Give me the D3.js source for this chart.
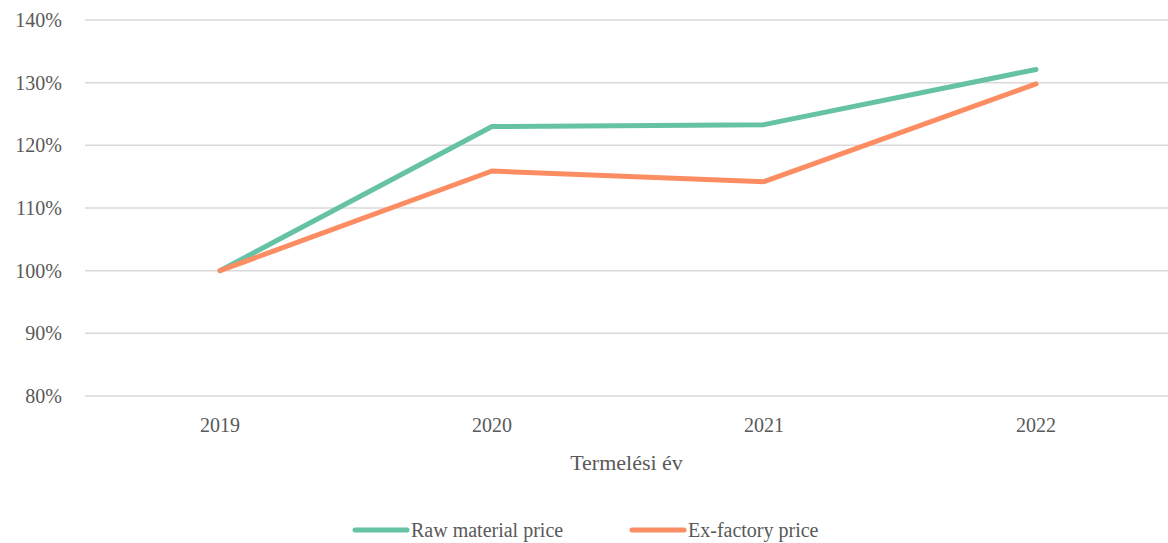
<!DOCTYPE html>
<html>
<head>
<meta charset="utf-8">
<script src="https://cdn.jsdelivr.net/npm/d3@7"></script>
<style>
  html, body { margin: 0; padding: 0; background: #fff; }
  svg text { font-family: "Liberation Serif", "Times New Roman", Tinos, "DejaVu Serif", serif; }
</style>
</head>
<body>
<svg id="chart" width="1168" height="543"></svg>
<script>
// Chart data
const years = ["2019", "2020", "2021", "2022"];
const rawMaterial = [100.0, 123.0, 123.3, 132.1];
const exFactory = [100.0, 115.9, 114.2, 129.8];
const yTicks = [80, 90, 100, 110, 120, 130, 140];
const seriesNames = ["Raw material price", "Ex-factory price"];
const seriesColors = ["#66c2a5", "#fc8d62"];

const width = 1168;
const height = 543;
const margin = { top: 20, right: 0, bottom: 147, left: 85 };
const textColor = "#595959";
const serif = "'Liberation Serif', 'Times New Roman', Tinos, 'DejaVu Serif', serif";

const svg = d3.select("#chart");

// categories are spread a little past the right edge, like the reference
const x = d3.scaleBand()
  .domain(years)
  .range([84, 1172])
  .padding(0);

const y = d3.scaleLinear()
  .domain([80, 140])
  .range([height - margin.bottom, margin.top]);

// gridlines
svg.append("g")
  .selectAll("line")
  .data(yTicks)
  .join("line")
  .attr("x1", margin.left)
  .attr("x2", width - margin.right)
  .attr("y1", (d) => y(d))
  .attr("y2", (d) => y(d))
  .attr("stroke", "#d9d9d9")
  .attr("stroke-width", 1.5);

// y tick labels
svg.append("g")
  .selectAll("text")
  .data(yTicks)
  .join("text")
  .attr("x", 62)
  .attr("y", (d) => y(d))
  .attr("dy", "0.35em")
  .attr("text-anchor", "end")
  .attr("fill", textColor)
  .attr("font-family", serif)
  .style("font-size", "20px")
  .text((d) => d + "%");

// x tick labels
svg.append("g")
  .selectAll("text")
  .data(years)
  .join("text")
  .attr("x", (d) => x(d) + x.bandwidth() / 2)
  .attr("y", 432)
  .attr("text-anchor", "middle")
  .attr("fill", textColor)
  .attr("font-family", serif)
  .style("font-size", "20px")
  .text((d) => d);

// x axis title
svg.append("text")
  .attr("x", (margin.left + width - margin.right) / 2)
  .attr("y", 470)
  .attr("text-anchor", "middle")
  .attr("fill", textColor)
  .attr("font-family", serif)
  .style("font-size", "22px")
  .text("Termelési év");

const line = d3.line()
  .x((d, i) => x(years[i]) + x.bandwidth() / 2)
  .y((d) => y(d));

[rawMaterial, exFactory].forEach((values, i) => {
  svg.append("path")
    .datum(values)
    .attr("d", line)
    .attr("fill", "none")
    .attr("stroke", seriesColors[i])
    .attr("stroke-width", 5)
    .attr("stroke-linecap", "round")
    .attr("stroke-linejoin", "round");
});

// legend
const legendItems = [
  { x: 355, name: seriesNames[0], color: seriesColors[0] },
  { x: 632, name: seriesNames[1], color: seriesColors[1] },
];
const legend = svg.append("g");
legendItems.forEach((item) => {
  legend.append("line")
    .attr("x1", item.x)
    .attr("x2", item.x + 52)
    .attr("y1", 530)
    .attr("y2", 530)
    .attr("stroke", item.color)
    .attr("stroke-width", 5)
    .attr("stroke-linecap", "round");
  legend.append("text")
    .attr("x", item.x + 56)
    .attr("y", 530)
    .attr("dy", "0.35em")
    .attr("fill", textColor)
    .attr("font-family", serif)
    .style("font-size", "20px")
    .text(item.name);
});
</script>
</body>
</html>
